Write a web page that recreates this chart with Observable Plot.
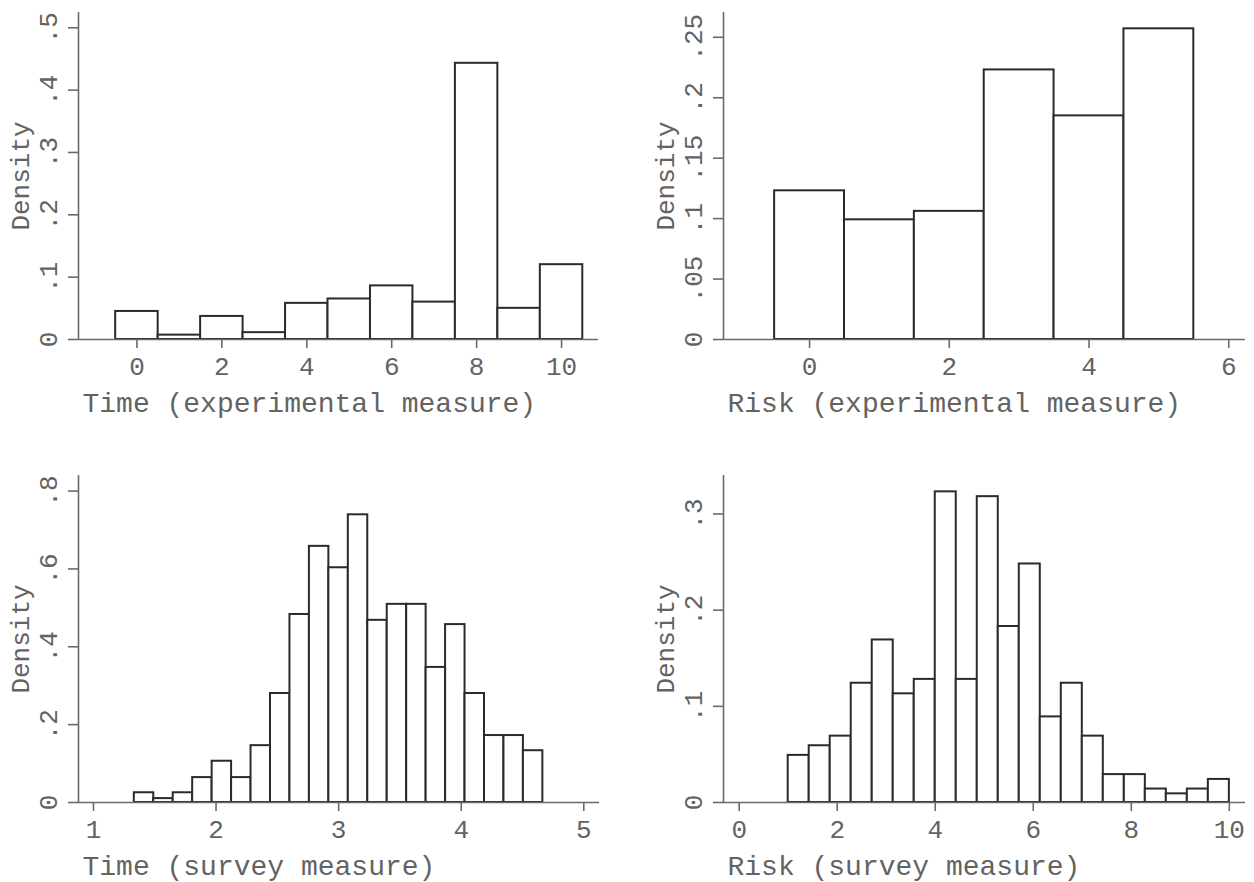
<!DOCTYPE html>
<html>
<head>
<meta charset="utf-8">
<script src="https://cdn.jsdelivr.net/npm/d3@7"></script>
<script src="https://cdn.jsdelivr.net/npm/@observablehq/plot@0.6"></script>
<style>
  html, body { margin: 0; padding: 0; background: #fff; }
  #wrap { position: relative; width: 1254px; height: 882px; overflow: hidden; background: #fff; }
  #wrap > .panel { position: absolute; }
</style>
</head>
<body>
<div id="wrap"></div>
<script>
// ---- Panel 1: Time (experimental measure) — one bar per integer value
const timeExpValues  = [0, 1, 2, 3, 4, 5, 6, 7, 8, 9, 10];
const timeExpDensity = [0.045, 0.007, 0.037, 0.011, 0.058, 0.065, 0.086, 0.060, 0.443, 0.050, 0.120];
const timeExpTicksX  = [0, 2, 4, 6, 8, 10];
const timeExpTicksY  = [0, 0.1, 0.2, 0.3, 0.4, 0.5];
const timeExpLabelsY = ["0", ".1", ".2", ".3", ".4", ".5"];

// ---- Panel 2: Risk (experimental measure)
const riskExpValues  = [0, 1, 2, 3, 4, 5];
const riskExpDensity = [0.123, 0.099, 0.106, 0.223, 0.185, 0.257];
const riskExpTicksX  = [0, 2, 4, 6];
const riskExpTicksY  = [0, 0.05, 0.1, 0.15, 0.2, 0.25];
const riskExpLabelsY = ["0", ".05", ".1", ".15", ".2", ".25"];

// ---- Panel 3: Time (survey measure) — 21 bins
const timeSurveyBinStart = 1.3333;
const timeSurveyBinWidth = 0.1587;
const timeSurveyDensity  = [0.025, 0.010, 0.025, 0.064, 0.106, 0.064, 0.146, 0.280, 0.483, 0.658, 0.603,
                            0.739, 0.468, 0.509, 0.509, 0.347, 0.457, 0.280, 0.172, 0.172, 0.133];
const timeSurveyTicksX   = [1, 2, 3, 4, 5];
const timeSurveyTicksY   = [0, 0.2, 0.4, 0.6, 0.8];
const timeSurveyLabelsY  = ["0", ".2", ".4", ".6", ".8"];

// ---- Panel 4: Risk (survey measure) — 21 bins
const riskSurveyBinStart = 1.0;
const riskSurveyBinWidth = 0.4286;
const riskSurveyDensity  = [0.049, 0.059, 0.069, 0.124, 0.169, 0.113, 0.128, 0.323, 0.128, 0.318, 0.183,
                            0.248, 0.089, 0.124, 0.069, 0.029, 0.029, 0.014, 0.009, 0.014, 0.024];
const riskSurveyTicksX   = [0, 2, 4, 6, 8, 10];
const riskSurveyTicksY   = [0, 0.1, 0.2, 0.3];
const riskSurveyLabelsY  = ["0", ".1", ".2", ".3"];

const titles = [
  "Time (experimental measure)",
  "Risk (experimental measure)",
  "Time (survey measure)",
  "Risk (survey measure)"
];
const yTitle = "Density";

// build bar tables
const centeredBars = (vals, dens) => vals.map((v, i) => ({x1: v - 0.5, x2: v + 0.5, y: dens[i]}));
const binnedBars = (start, w, dens) => dens.map((d, i) => ({x1: start + i * w, x2: start + (i + 1) * w, y: d}));

const FONT = "'Liberation Mono', 'DejaVu Sans Mono', monospace";
const TEXT = "#636363";
const AXIS = "#6a6a6a";

function panel(cfg) {
  const {left, top, mLeft, mRight, mTop, mBottom, xDomain, yDomain, bars, xTicks, yTicks, yLabels, title} = cfg;
  const chart = Plot.plot({
    width: 627,
    height: 441,
    marginLeft: mLeft,
    marginRight: mRight,
    marginTop: mTop,
    marginBottom: mBottom,
    style: {fontFamily: FONT, fontSize: "26px", color: TEXT, background: "white", overflow: "visible"},
    x: {domain: xDomain, axis: null},
    y: {domain: yDomain, axis: null},
    marks: [
      Plot.rectY(bars, {x1: "x1", x2: "x2", y: "y", fill: "white", stroke: "#2a2a2a", strokeWidth: 2}),
      Plot.ruleY([0], {stroke: AXIS, strokeWidth: 1.6}),
      Plot.ruleX([xDomain[0]], {stroke: AXIS, strokeWidth: 1.6}),
      Plot.axisX(xTicks, {label: null, tickSize: 9, tickPadding: 8, stroke: AXIS, strokeWidth: 1.6, fill: TEXT,
                          tickFormat: d => String(d)}),
      Plot.axisY(yTicks, {label: null, tickSize: 10, tickPadding: 12, tickRotate: -90, stroke: AXIS, strokeWidth: 1.6, fill: TEXT,
                          tickFormat: d => yLabels[yTicks.indexOf(d)]}),
      Plot.text([title], {frameAnchor: "bottom-left", textAnchor: "start", lineAnchor: "bottom",
                          dx: 4, dy: 72, fontSize: 28, fill: TEXT}),
      Plot.text([yTitle], {frameAnchor: "left", textAnchor: "middle", lineAnchor: "bottom", rotate: -90,
                           dx: -50, fontSize: 26, fill: TEXT})
    ]
  });
  const div = document.createElement("div");
  div.className = "panel";
  div.style.left = left + "px";
  div.style.top = top + "px";
  div.appendChild(chart);
  document.getElementById("wrap").appendChild(div);
}

panel({
  left: 0, top: 0, mLeft: 78, mRight: 29, mTop: 12, mBottom: 102,
  xDomain: [-1.376, 10.87], yDomain: [0, 0.5245],
  bars: centeredBars(timeExpValues, timeExpDensity),
  xTicks: timeExpTicksX, yTicks: timeExpTicksY, yLabels: timeExpLabelsY, title: titles[0]
});
panel({
  left: 627, top: 0, mLeft: 96, mRight: 9, mTop: 12, mBottom: 102,
  xDomain: [-1.232, 6.24], yDomain: [0, 0.2705],
  bars: centeredBars(riskExpValues, riskExpDensity),
  xTicks: riskExpTicksX, yTicks: riskExpTicksY, yLabels: riskExpLabelsY, title: titles[1]
});
panel({
  left: 0, top: 441, mLeft: 78, mRight: 28, mTop: 34, mBottom: 80,
  xDomain: [0.878, 5.128], yDomain: [0, 0.840],
  bars: binnedBars(timeSurveyBinStart, timeSurveyBinWidth, timeSurveyDensity),
  xTicks: timeSurveyTicksX, yTicks: timeSurveyTicksY, yLabels: timeSurveyLabelsY, title: titles[2]
});
panel({
  left: 627, top: 441, mLeft: 96, mRight: 9, mTop: 34, mBottom: 80,
  xDomain: [-0.32, 10.33], yDomain: [0, 0.340],
  bars: binnedBars(riskSurveyBinStart, riskSurveyBinWidth, riskSurveyDensity),
  xTicks: riskSurveyTicksX, yTicks: riskSurveyTicksY, yLabels: riskSurveyLabelsY, title: titles[3]
});
</script>
</body>
</html>
